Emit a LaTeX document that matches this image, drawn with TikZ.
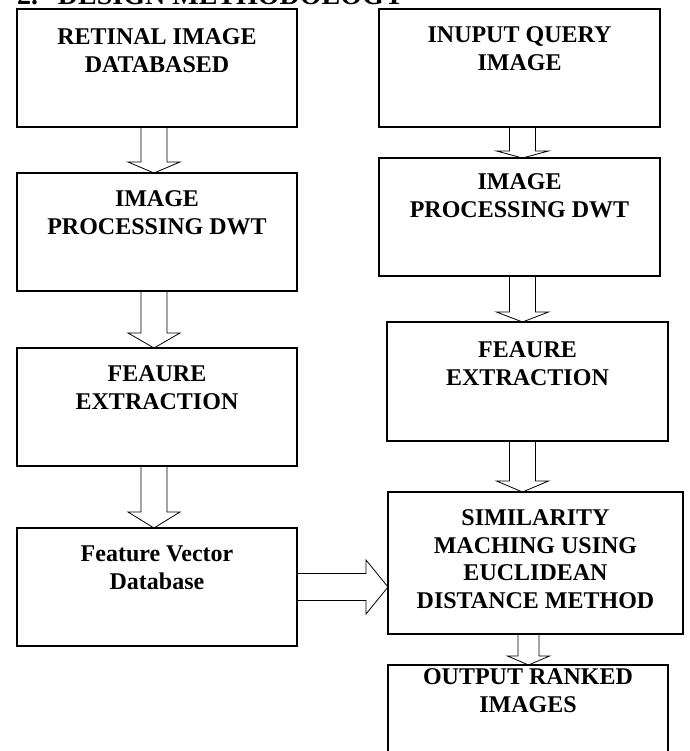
\documentclass[tikz,border=0pt]{standalone}
\usepackage{fontspec}
\setmainfont{Liberation Serif}
\usetikzlibrary{calc,positioning}

\tikzset{
	flowbox/.style={draw, rectangle, line width=1.6pt, inner sep=0, outer sep=0, anchor=north west, minimum width=280pt, minimum height=118pt},
	flowtext/.style={inner sep=0, outer sep=0, align=center, font=\flowfont},
	hollow/.style={draw, line width=0.8pt, line join=miter},
}
% block arrows: [half shaft]{from}{to}{axis x}{head length}
\newcommand{\vblock}[5][13]{%
	\draw[hollow] let \p1=(#2.south), \p2=(#3.north) in
		(#4pt-#1pt,\y1) -- (#4pt-#1pt,\y2+#5pt) -- (#4pt-2*#1pt,\y2+#5pt) -- (#4pt,\y2)
		-- (#4pt+2*#1pt,\y2+#5pt) -- (#4pt+#1pt,\y2+#5pt) -- (#4pt+#1pt,\y1);}
\newcommand{\hblock}[4]{%
	\draw[hollow] let \p1=(#1.east), \p2=(#2.west) in
		(\x1,\y1+#3pt) -- (\x2-#4pt,\y1+#3pt) -- (\x2-#4pt,\y1+2*#3pt) -- (\x2,\y1)
		-- (\x2-#4pt,\y1-2*#3pt) -- (\x2-#4pt,\y1-#3pt) -- (\x1,\y1-#3pt);}

\begin{document}
\begin{tikzpicture}[x=1pt,y=-1pt,line cap=rect]
	\def\flowfont{\fontsize{24pt}{28pt}\bfseries\selectfont}
	\def\headfont{\fontsize{28pt}{32pt}\bfseries\selectfont}
	\useasboundingbox (0,0) rectangle (689,751);
	\node[inner sep=0, outer sep=0, anchor=base west, font=\headfont] (heading) at (17,5) {2.\hspace{20pt}DESIGN METHODOLOGY};
	% left column
	\node[flowbox] (retdb) at (17,9) {};
	\node[flowtext, below=20pt of retdb.north] (retdbtext) {RETINAL IMAGE\\DATABASED};
	\node[flowbox] (dwtleft) at (17,173) {};
	\node[flowtext, below=18pt of dwtleft.north] (dwtlefttext) {IMAGE\\PROCESSING DWT};
	\node[flowbox] (featleft) at (17,348) {};
	\node[flowtext, below=18pt of featleft.north] (featlefttext) {FEAURE\\EXTRACTION};
	\node[flowbox] (fvecdb) at (17,528) {};
	\node[flowtext, below=18pt of fvecdb.north] (fvecdbtext) {Feature Vector\\Database};
	% right column
	\node[flowbox, minimum width=281pt] (query) at (379,9) {};
	\node[flowtext, below=18pt of query.north] (querytext) {INUPUT QUERY\\IMAGE};
	\node[flowbox, minimum width=281pt] (dwtright) at (379,158) {};
	\node[flowtext, below=16pt of dwtright.north] (dwtrighttext) {IMAGE\\PROCESSING DWT};
	\node[flowbox, minimum width=281pt, minimum height=119pt] (featright) at (387,322) {};
	\node[flowtext, below=20pt of featright.north] (featrighttext) {FEAURE\\EXTRACTION};
	\node[flowbox, minimum width=295pt, minimum height=142pt] (simmatch) at (388,492) {};
	\node[flowtext, below=18pt of simmatch.north, font=\fontsize{24pt}{27.5pt}\bfseries\selectfont] (simmatchtext) {SIMILARITY\\MACHING USING\\EUCLIDEAN\\DISTANCE METHOD};
	\node[flowbox, minimum height=110pt] (ranked) at (388,665) {};
	\node[flowtext, below=4pt of ranked.north] (rankedtext) {OUTPUT RANKED\\IMAGES};
	% arrows
	\vblock{retdb}{dwtleft}{154}{11}
	\vblock{dwtleft}{featleft}{154}{15}
	\vblock{featleft}{fvecdb}{154}{16}
	\vblock{query}{dwtright}{522.5}{7}
	\vblock{dwtright}{featright}{522.5}{10}
	\vblock{featright}{simmatch}{522.5}{11}
	\vblock[10.5]{simmatch}{ranked}{528.5}{9}
	\hblock{fvecdb}{simmatch}{13.5}{22}
\end{tikzpicture}
\end{document}
